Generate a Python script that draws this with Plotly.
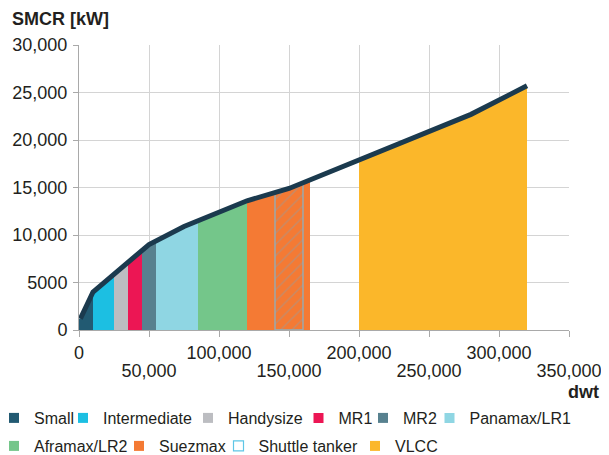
import numpy as np
import plotly.graph_objects as go

# ---------------- data ----------------
curve_dwt = [1000, 10000, 50000, 75000, 120000, 150000, 280000, 320000]
curve_kw = [1200, 4000, 9000, 10900, 13600, 14900, 22700, 25700]

band_names = ["Small", "Intermediate", "Handysize", "MR1", "MR2",
              "Panamax/LR1", "Aframax/LR2", "Suezmax", "VLCC"]
band_start = [0, 10000, 25000, 35000, 45000, 55000, 85000, 120000, 200000]
band_end = [10000, 25000, 35000, 45000, 55000, 85000, 120000, 165000, 320000]

shuttle_name = "Shuttle tanker"
shuttle_start = 140000
shuttle_end = 160000

x_tickvals_upper = [0, 100000, 200000, 300000]
x_ticktext_upper = ["0", "100,000", "200,000", "300,000"]
x_tickvals_lower = [50000, 150000, 250000, 350000]
x_ticktext_lower = ["50,000", "150,000", "250,000", "350,000"]
y_tickvals = [0, 5000, 10000, 15000, 20000, 25000, 30000]
y_ticktext = ["0", "5000", "10,000", "15,000", "20,000", "25,000", "30,000"]

legend_order = ["Small", "Intermediate", "Handysize", "MR1", "MR2", "Panamax/LR1",
                "Aframax/LR2", "Suezmax", "Shuttle tanker", "VLCC"]

# ---------------- style ----------------
colors = {
    "Small": "#225a72",
    "Intermediate": "#1cbfe2",
    "Handysize": "#bcbdc1",
    "MR1": "#ec1654",
    "MR2": "#57818f",
    "Panamax/LR1": "#8fd6e3",
    "Aframax/LR2": "#74c68a",
    "Suezmax": "#f47a34",
    "VLCC": "#fbb72a",
}
shuttle_color = "#5ec6e6"
curve_color = "#1b3a4e"
FONT = "Liberation Sans, Arial, Helvetica, sans-serif"
TXT = "#231f20"

# page has an 8px body margin: work in page pixels, convert to figure pixels
OFF = 8
W, H = 609 - OFF, 455 - OFF
P_LEFT, P_RIGHT, P_TOP, P_BOTTOM = 79, 569, 45, 330  # plot area in page px
ML = P_LEFT - OFF
MR = W - (P_RIGHT - OFF)
MT = P_TOP - OFF
MB = H - (P_BOTTOM - OFF)
PW, PH = P_RIGHT - P_LEFT, P_BOTTOM - P_TOP


def px_x(p):
    return (p - P_LEFT) / PW


def px_y(p):
    return (P_BOTTOM - p) / PH


# (marker centre px, text start px, row centre px) for each legend item (page px)
legend_pos = [(20, 28, 418), (87, 99, 418), (212, 224, 418), (322, 335, 418),
              (387, 399, 418), (453, 466, 418),
              (20, 28, 446), (143, 155, 446), (242, 255, 446), (379, 391, 446)]

fig = go.Figure()

# band fills
for name, s, e in zip(band_names, band_start, band_end):
    xs = [s] + [c for c in curve_dwt if s < c < e] + [e]
    ys = np.interp(xs, curve_dwt, curve_kw)
    fig.add_trace(go.Scatter(x=xs, y=ys, mode="lines", line=dict(width=0, color=colors[name]),
                             fill="tozeroy", fillcolor=colors[name], showlegend=False,
                             hoverinfo="skip"))

# shuttle tanker hatch overlay
xs = [shuttle_start] + [c for c in curve_dwt if shuttle_start < c < shuttle_end] + [shuttle_end]
ys = list(np.interp(xs, curve_dwt, curve_kw))
sx = [shuttle_start] + xs + [shuttle_end, shuttle_start]
sy = [0] + ys + [0, 0]
fig.add_trace(go.Scatter(x=sx, y=sy, mode="lines", line=dict(width=1.3, color="#8fb0bd"),
                         fill="toself", fillcolor="rgba(0,0,0,0)",
                         fillpattern=dict(shape="/", fgcolor="#8f9ea5", bgcolor="rgba(0,0,0,0)",
                                          size=8, solidity=0.16),
                         showlegend=False, hoverinfo="skip"))

# main curve (on the overlaid x axis carrying the lower tick row; same range)
fig.add_trace(go.Scatter(x=curve_dwt, y=curve_kw, mode="lines", xaxis="x2", yaxis="y",
                         line=dict(color=curve_color, width=5), showlegend=False,
                         hoverinfo="skip"))

# legend entries (one legend per entry for exact placement)
layout_legends = {}
for i, name in enumerate(legend_order):
    key = "legend" if i == 0 else f"legend{i+1}"
    if name == shuttle_name:
        marker = dict(symbol="square-open", size=10, color=shuttle_color, line=dict(width=1.2))
    else:
        marker = dict(symbol="square", size=10, color=colors[name])
    fig.add_trace(go.Scatter(x=[None], y=[None], mode="markers", marker=marker,
                             name=name, legend=key, showlegend=True))
    c, t, row = legend_pos[i]
    L = (c + t) / 2 - 30
    layout_legends[key] = dict(
        x=px_x(L), xanchor="left", y=px_y(row), yanchor="middle",
        orientation="h", bgcolor="rgba(0,0,0,0)", borderwidth=0, itemwidth=30,
        font=dict(family=FONT, size=16, color=TXT))

axis_common = dict(showline=True, linecolor="#a9a9a9", linewidth=1, ticks="outside",
                   tickcolor="#a9a9a9", tickfont=dict(family=FONT, size=18, color=TXT),
                   zeroline=False, automargin=False)

fig.update_layout(
    width=W, height=H,
    margin=dict(l=ML, r=MR, t=MT, b=MB, pad=0, autoexpand=False),
    paper_bgcolor="white", plot_bgcolor="white",
    font=dict(family=FONT, color=TXT),
    xaxis=dict(range=[0, 350000], tickvals=x_tickvals_upper, ticktext=x_ticktext_upper,
               ticklen=6, showgrid=True, gridcolor="#d4d4d4", gridwidth=1, **axis_common),
    xaxis2=dict(range=[0, 350000], tickvals=x_tickvals_lower, ticktext=x_ticktext_lower,
                ticklen=6, showgrid=True, gridcolor="#d4d4d4", gridwidth=1,
                overlaying="x", anchor="y", side="bottom", ticklabelstandoff=18,
                **axis_common),
    yaxis=dict(range=[0, 30000], tickvals=y_tickvals, ticktext=y_ticktext,
               ticklen=5, showgrid=True, gridcolor="#d4d4d4", gridwidth=1,
               ticklabelstandoff=2, **axis_common),
    annotations=[
        dict(text="<b>SMCR [kW]</b>", xref="paper", yref="paper",
             x=px_x(10), xanchor="left", y=px_y(19), yanchor="middle",
             showarrow=False, font=dict(family=FONT, size=18, color=TXT)),
        dict(text="<b>dwt</b>", xref="paper", yref="paper",
             x=px_x(601), xanchor="right", y=px_y(392), yanchor="middle",
             showarrow=False, font=dict(family=FONT, size=18, color=TXT)),
    ],
    **layout_legends,
)

fig.write_html("out.html")
